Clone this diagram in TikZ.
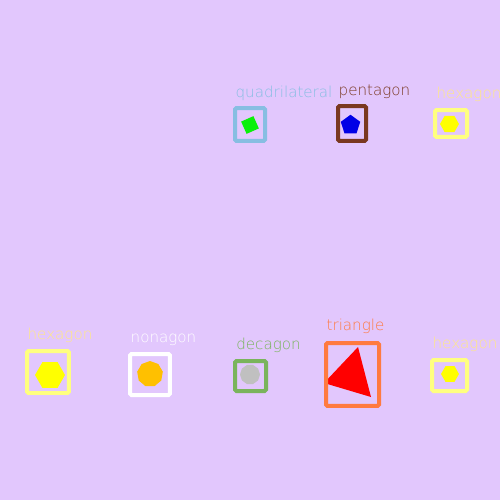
\documentclass[tikz,border=0pt]{standalone}
\usepackage{fontspec}
\setmainfont{DejaVu Sans}[UprightFont=* ExtraLight]
\usetikzlibrary{shapes.geometric}
\definecolor{bgc}{RGB}{226,199,253}
\definecolor{quadc}{RGB}{135,190,226}
\definecolor{pentc}{RGB}{122,56,32}
\definecolor{hexc}{RGB}{255,255,128}
\definecolor{hextxt}{RGB}{255,232,135}
\definecolor{nonc}{RGB}{255,255,255}
\definecolor{decc}{RGB}{122,180,92}
\definecolor{tric}{RGB}{255,122,64}
\definecolor{quadf}{RGB}{10,240,10}
\definecolor{pentf}{RGB}{0,0,230}
\definecolor{hexf}{RGB}{255,255,0}
\definecolor{nonf}{RGB}{255,192,0}
\definecolor{decf}{RGB}{192,192,192}
\definecolor{trif}{RGB}{255,0,0}
\tikzset{
  frm/.style={draw, rectangle, line width=0.8mm, rounded corners=0.3mm, inner sep=0pt},
  lbl/.style={anchor=base, inner sep=0pt, font=\fontsize{8.6}{9}\selectfont},
  shp/.style={regular polygon, inner sep=0pt, draw=none},
}

\begin{document}
\begin{tikzpicture}[x=0.02cm, y=-0.02cm]

\fill[bgc] (0,0) rectangle (500,500);
\useasboundingbox (0,0) rectangle (500,500);

% top row
\node[shp, regular polygon sides=4, rotate=24, fill=quadf, minimum size=3.8mm] (quad) at (250,125) {};
\node[frm, draw=quadc, minimum width=6mm, minimum height=6.6mm] (quadbox) at (250,124.5) {};
\node[lbl, text=quadc] (quadlbl) at (284,97) {quadrilateral};

\node[shp, regular polygon sides=5, fill=pentf, minimum size=4.1mm] (pent) at (350.5,125) {};
\node[frm, draw=pentc, minimum width=5.6mm, minimum height=7mm] (pentbox) at (352,123.5) {};
\node[lbl, text=pentc] (pentlbl) at (374.5,95) {pentagon};

\node[shp, regular polygon sides=6, fill=hexf, minimum size=3.8mm] (hexa) at (449.5,124) {};
\node[frm, draw=hexc, minimum width=6.4mm, minimum height=5.4mm] (hexabox) at (451,123.5) {};
\node[lbl, text=hextxt] (hexalbl) at (469,98) {hexagon};

% bottom row
\node[shp, regular polygon sides=6, fill=hexf, minimum size=6mm] (hexb) at (50,375) {};
\node[frm, draw=hexc, minimum width=8.4mm, minimum height=8.4mm] (hexbbox) at (48,372) {};
\node[lbl, text=hextxt] (hexblbl) at (60,339) {hexagon};

\node[shp, regular polygon sides=9, fill=nonf, minimum size=5.2mm] (non) at (150,374) {};
\node[frm, draw=nonc, minimum width=8mm, minimum height=8.2mm] (nonbox) at (150,374.5) {};
\node[lbl, text=nonc] (nonlbl) at (163.5,342) {nonagon};

\node[shp, regular polygon sides=10, fill=decf, minimum size=4mm] (dec) at (250,374.5) {};
\node[frm, draw=decc, minimum width=6.2mm, minimum height=6mm] (decbox) at (250.5,376) {};
\node[lbl, text=decc] (declbl) at (268.5,349) {decagon};

\fill[trif] (358,347) -- (371,397) -- (324,383) -- cycle;
\node[frm, draw=tric, minimum width=10.6mm, minimum height=12.6mm] (tribox) at (352.5,374.5) {};
\node[lbl, text=tric] (trilbl) at (355.5,330) {triangle};

\node[shp, regular polygon sides=6, fill=hexf, minimum size=3.6mm] (hexc) at (450,374) {};
\node[frm, draw=hexc, minimum width=7mm, minimum height=6.2mm] (hexcbox) at (449.5,375.5) {};
\node[lbl, text=hextxt] (hexclbl) at (465,348) {hexagon};

\end{tikzpicture}
\end{document}
